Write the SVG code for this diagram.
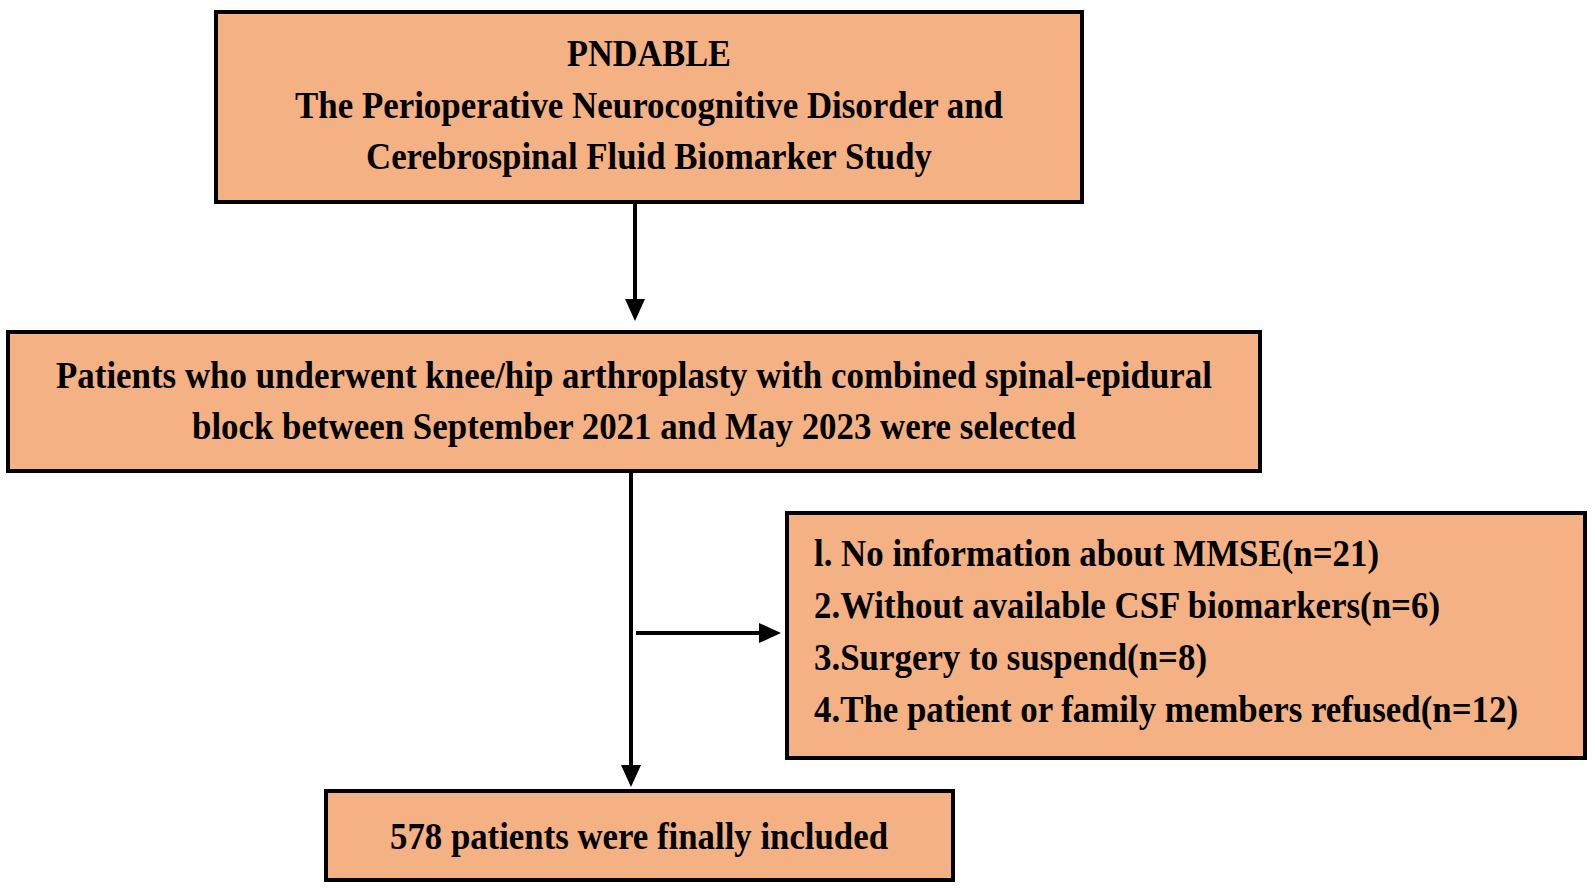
<svg xmlns="http://www.w3.org/2000/svg" width="1595" height="888" viewBox="0 0 1595 888">
<style>
.box{fill:#F4B183;stroke:#000;stroke-width:4}
.t{font-family:"Liberation Serif","Times New Roman",serif;font-weight:bold;font-size:37px;fill:#000}
.c{text-anchor:middle}
.ln{stroke:#000;stroke-width:4;fill:none}
.hd{fill:#000}
</style>
<rect width="1595" height="888" fill="#fff"/>
<g id="connectors">
<line class="ln" x1="635" y1="202" x2="635" y2="302"/>
<polygon class="hd" points="625,299 645,299 635,321"/>
<line class="ln" x1="631" y1="471" x2="631" y2="768"/>
<polygon class="hd" points="621,765 641,765 631,787"/>
<line class="ln" x1="636" y1="633" x2="762" y2="633"/>
<polygon class="hd" points="759,623 759,643 781,633"/>
</g>
<g id="node-study">
<rect class="box" x="216" y="12" width="866" height="190"/>
<text class="t c" x="649" y="66" textLength="164" lengthAdjust="spacingAndGlyphs">PNDABLE</text>
<text class="t c" x="649" y="118" textLength="708" lengthAdjust="spacingAndGlyphs">The Perioperative Neurocognitive Disorder and</text>
<text class="t c" x="649" y="169" textLength="566" lengthAdjust="spacingAndGlyphs">Cerebrospinal Fluid Biomarker Study</text>
</g>
<g id="node-selected">
<rect class="box" x="8" y="332" width="1252" height="139"/>
<text class="t c" x="634" y="388" textLength="1156" lengthAdjust="spacingAndGlyphs">Patients who underwent knee/hip arthroplasty with combined spinal-epidural</text>
<text class="t c" x="634" y="439" textLength="884" lengthAdjust="spacingAndGlyphs">block between September 2021 and May 2023 were selected</text>
</g>
<g id="node-excluded">
<rect class="box" x="787" y="513" width="798" height="245"/>
<text class="t" x="814" y="566" textLength="565" lengthAdjust="spacingAndGlyphs">l. No information about MMSE(n=21)</text>
<text class="t" x="814" y="618" textLength="626" lengthAdjust="spacingAndGlyphs">2.Without available CSF biomarkers(n=6)</text>
<text class="t" x="814" y="670" textLength="393" lengthAdjust="spacingAndGlyphs">3.Surgery to suspend(n=8)</text>
<text class="t" x="814" y="722" textLength="704" lengthAdjust="spacingAndGlyphs">4.The patient or family members refused(n=12)</text>
</g>
<g id="node-included">
<rect class="box" x="326" y="791" width="627" height="89"/>
<text class="t c" x="639" y="849" textLength="498" lengthAdjust="spacingAndGlyphs">578 patients were finally included</text>
</g>
</svg>
